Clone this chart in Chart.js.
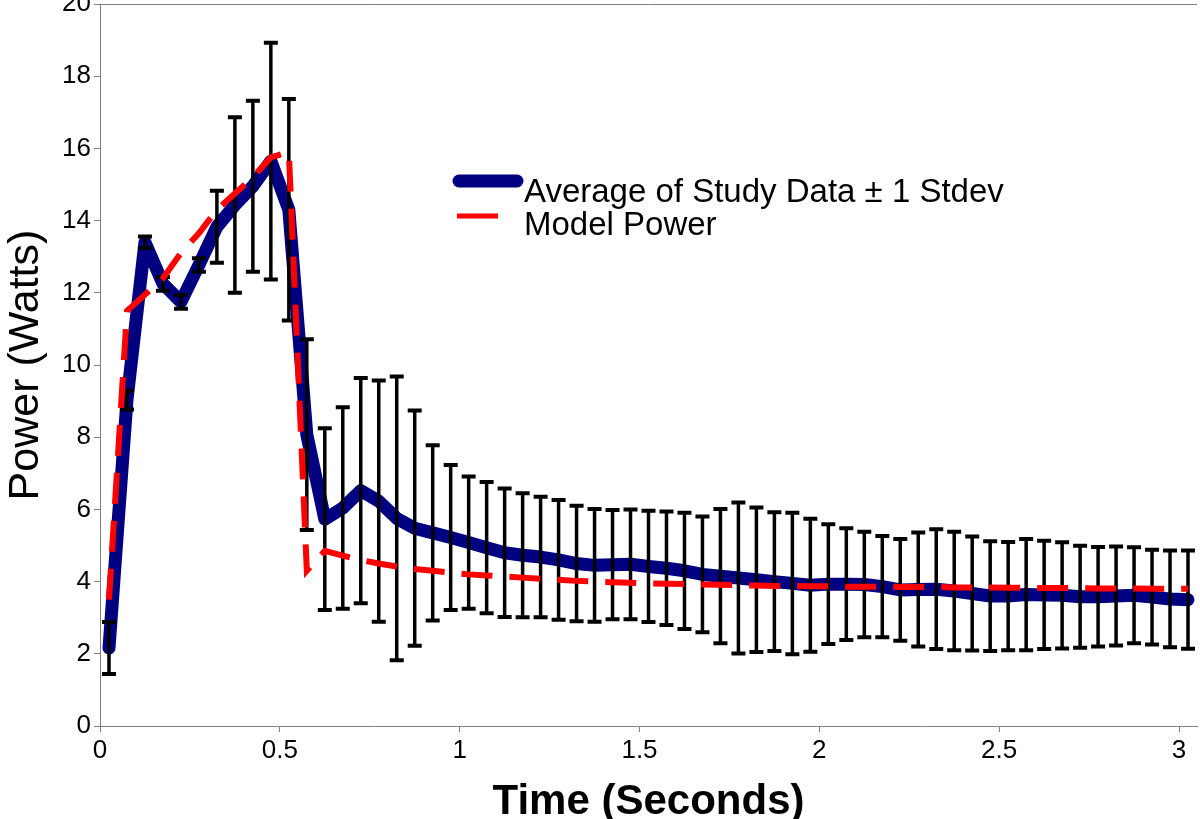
<!DOCTYPE html>
<html lang="en">
<head>
<meta charset="UTF-8">
<title>Power vs Time</title>
<script src="https://cdn.jsdelivr.net/npm/chart.js"></script>
<style>
  body { margin: 0; background: #fff; }
</style>
</head>
<body>
<canvas id="powerChart" width="1200" height="819"></canvas>
<script>
  // sample times (seconds)
  const times = [
    0.025, 0.075, 0.125, 0.175, 0.225, 0.275, 0.325, 0.375, 0.425, 0.475,
    0.525, 0.575, 0.625, 0.675, 0.725, 0.775, 0.825, 0.875, 0.925, 0.975,
    1.025, 1.075, 1.125, 1.175, 1.225, 1.275, 1.325, 1.375, 1.425, 1.475,
    1.525, 1.575, 1.625, 1.675, 1.725, 1.775, 1.825, 1.875, 1.925, 1.975,
    2.025, 2.075, 2.125, 2.175, 2.225, 2.275, 2.325, 2.375, 2.425, 2.475,
    2.525, 2.575, 2.625, 2.675, 2.725, 2.775, 2.825, 2.875, 2.925, 2.975,
    3.025
  ];

  // average of study data (W)
  const avgPower = [
    2.16, 9.03, 13.4, 12.25, 11.75, 12.77, 13.83, 14.43, 14.95, 15.65,
    14.3, 8.07, 5.73, 6.04, 6.52, 6.23, 5.75, 5.48, 5.35, 5.22,
    5.08, 4.94, 4.8, 4.73, 4.68, 4.6, 4.5, 4.45, 4.47, 4.48,
    4.42, 4.37, 4.3, 4.2, 4.15, 4.1, 4.05, 4.0, 3.95, 3.9,
    3.93, 3.93, 3.92, 3.86, 3.77, 3.78, 3.79, 3.74, 3.67, 3.6,
    3.6, 3.64, 3.63, 3.62, 3.58, 3.58, 3.6, 3.62, 3.57, 3.52,
    3.5
  ];

  // one standard deviation (W)
  const stdev = [
    0.72, 0.26, 0.16, 0.19, 0.19, 0.19, 1.0, 2.43, 2.37, 3.28,
    3.07, 2.64, 2.52, 2.79, 3.12, 3.34, 3.93, 3.26, 2.43, 2.01,
    1.83, 1.82, 1.78, 1.72, 1.67, 1.66, 1.6, 1.56, 1.51, 1.52,
    1.54, 1.57, 1.61, 1.6, 1.86, 2.09, 2.0, 1.92, 1.96, 1.84,
    1.66, 1.55, 1.46, 1.4, 1.41, 1.58, 1.66, 1.64, 1.58, 1.52,
    1.5, 1.54, 1.5, 1.47, 1.41, 1.38, 1.37, 1.33, 1.31, 1.34,
    1.36
  ];

  // model power (W)
  const modelPower = [
    3.5, 11.5, 11.95, 12.4, 13.1, 13.65, 14.3, 14.75, 15.2, 15.75,
    15.9, 4.3, 4.85, 4.72, 4.6, 4.5, 4.42, 4.35, 4.3, 4.25,
    4.2, 4.17, 4.14, 4.11, 4.08, 4.05, 4.02, 4.0, 3.98, 3.97,
    3.95, 3.94, 3.93, 3.92, 3.91, 3.9, 3.89, 3.88, 3.88, 3.87,
    3.87, 3.86, 3.86, 3.86, 3.85, 3.85, 3.85, 3.84, 3.84, 3.84,
    3.83, 3.83, 3.82, 3.82, 3.82, 3.81, 3.81, 3.81, 3.8, 3.8,
    3.8
  ];

  const seriesNames = ['Average of Study Data \u00b1 1 Stdev', 'Model Power'];
  const font = '"Liberation Sans", Arial, sans-serif';
  const axisGray = '#808080';

  // error bars drawn right after the average line, so the model line sits on top
  const errorBars = {
    id: 'errorBars',
    afterDatasetDraw(chart, args) {
      if (args.index !== 0) return;
      const { ctx, scales: { x, y } } = chart;
      ctx.save();
      ctx.strokeStyle = '#000';
      times.forEach((t, i) => {
        const px = x.getPixelForValue(t);
        const top = y.getPixelForValue(avgPower[i] + stdev[i]);
        const bot = y.getPixelForValue(avgPower[i] - stdev[i]);
        ctx.lineWidth = 3.5;
        ctx.beginPath();
        ctx.moveTo(px, top);
        ctx.lineTo(px, bot);
        ctx.stroke();
        ctx.lineWidth = 4;
        ctx.beginPath();
        ctx.moveTo(px - 7, top); ctx.lineTo(px + 7, top);
        ctx.moveTo(px - 7, bot); ctx.lineTo(px + 7, bot);
        ctx.stroke();
      });
      ctx.restore();
    }
  };

  // top frame line + legend inside the plot
  const frameAndLegend = {
    id: 'frameAndLegend',
    afterDraw(chart) {
      const { ctx, chartArea } = chart;
      ctx.save();
      ctx.strokeStyle = axisGray;
      ctx.lineWidth = 1;
      ctx.beginPath();
      ctx.moveTo(chartArea.left, chartArea.top + 0.5);
      ctx.lineTo(chartArea.right, chartArea.top + 0.5);
      ctx.stroke();

      const ds = chart.data.datasets;
      ctx.lineCap = 'round';
      ctx.strokeStyle = ds[0].borderColor;
      ctx.lineWidth = 13;
      ctx.beginPath();
      ctx.moveTo(459, 181);
      ctx.lineTo(517, 181);
      ctx.stroke();

      ctx.lineCap = 'butt';
      ctx.strokeStyle = ds[1].borderColor;
      ctx.lineWidth = 5;
      ctx.beginPath();
      ctx.moveTo(457, 216);
      ctx.lineTo(498, 216);
      ctx.stroke();

      ctx.fillStyle = '#000';
      ctx.font = '33px ' + font;
      ctx.textBaseline = 'alphabetic';
      ctx.fillText(ds[0].label, 524, 202);
      ctx.fillText(ds[1].label, 524, 235);
      ctx.restore();
    }
  };

  const ctx = document.getElementById('powerChart').getContext('2d');
  new Chart(ctx, {
    type: 'line',
    data: {
      datasets: [
        {
          label: seriesNames[0],
          data: times.map((t, i) => ({ x: t, y: avgPower[i] })),
          borderColor: '#000080',
          borderWidth: 13,
          borderJoinStyle: 'round',
          borderCapStyle: 'round',
          pointRadius: 0,
          tension: 0,
          order: 1
        },
        {
          label: seriesNames[1],
          data: times.map((t, i) => ({ x: t, y: modelPower[i] })),
          borderColor: '#ff0000',
          borderWidth: 6,
          borderDash: [31, 17],
          pointRadius: 0,
          tension: 0,
          order: 0
        }
      ]
    },
    options: {
      responsive: false,
      animation: false,
      layout: { padding: { top: 4, right: 3, left: 0, bottom: 0 } },
      plugins: {
        legend: { display: false },
        tooltip: { enabled: false }
      },
      scales: {
        x: {
          type: 'linear',
          min: 0,
          max: 3.05,
          afterFit(scale) {
            scale.height = 93;
            scale.paddingLeft = 0;
            scale.paddingRight = 0;
          },
          border: { color: axisGray, width: 1 },
          grid: { drawOnChartArea: false, drawTicks: true, tickLength: 6, color: axisGray },
          ticks: {
            stepSize: 0.5,
            includeBounds: false,
            color: '#000',
            padding: 3,
            maxRotation: 0,
            font: { family: font, size: 26 },
            callback: (v) => String(v)
          },
          title: {
            display: true,
            text: 'Time (Seconds)',
            color: '#000',
            padding: 0,
            font: { family: font, size: 42, weight: 'bold', lineHeight: 0.8 }
          }
        },
        y: {
          min: 0,
          max: 20,
          afterFit(scale) {
            scale.width = 100;
            scale.paddingTop = 0;
            scale.paddingBottom = 0;
          },
          border: { color: axisGray, width: 1 },
          grid: { drawOnChartArea: false, drawTicks: true, tickLength: 6, color: axisGray },
          ticks: {
            stepSize: 2,
            color: '#000',
            padding: 3,
            font: { family: font, size: 26 }
          },
          title: {
            display: true,
            text: 'Power (Watts)',
            color: '#000',
            padding: { top: 5, bottom: 0 },
            font: { family: font, size: 43, lineHeight: 1 }
          }
        }
      }
    },
    plugins: [errorBars, frameAndLegend]
  });
</script>
</body>
</html>
